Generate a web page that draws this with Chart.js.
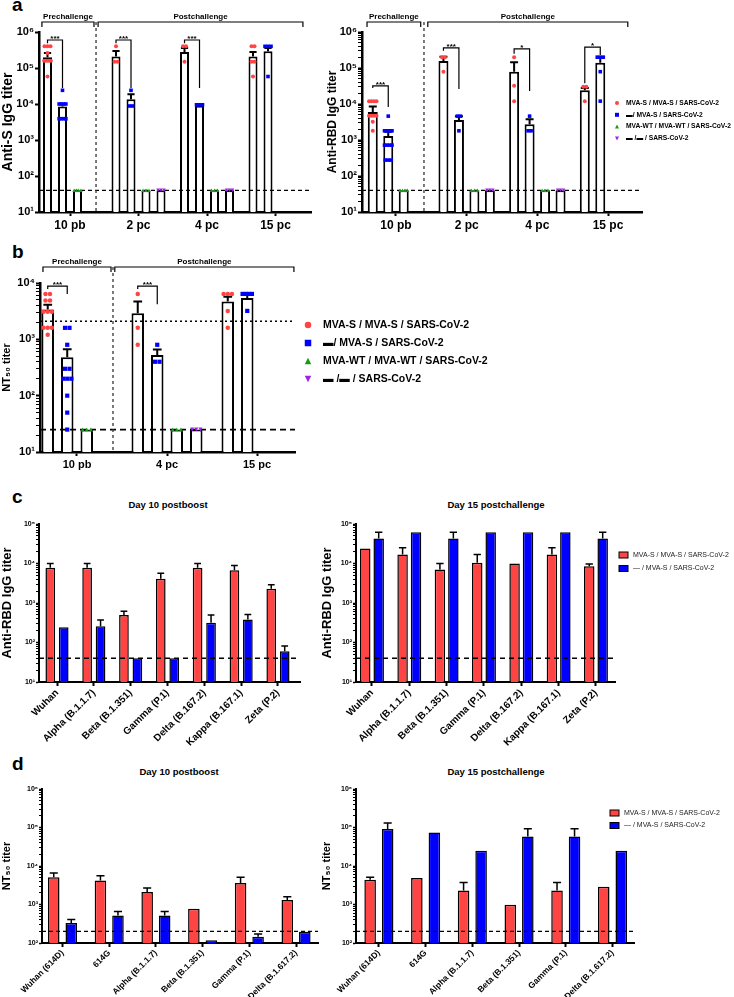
<!DOCTYPE html>
<html>
<head>
<meta charset="utf-8">
<script src="https://cdn.jsdelivr.net/npm/chart.js@4.4.0/dist/chart.umd.min.js"></script>
<style>
  body { margin: 0; background: #fff; font-family: "Liberation Sans", Arial, sans-serif; }
  #fig { position: relative; width: 734px; height: 997px; overflow: hidden; }
  canvas { position: absolute; }
  .lbl { position: absolute; font-weight: bold; color: #000; white-space: nowrap; }
  .ttl { position: absolute; font-weight: bold; font-size: 9.5px; color: #000; white-space: nowrap; transform: translateX(-50%); }
</style>
</head>
<body>
<div id="fig">
  <div class="lbl" style="left:12px;top:-6px;font-size:19px">a</div>
  <div class="lbl" style="left:12px;top:241px;font-size:19px">b</div>
  <div class="lbl" style="left:12px;top:486px;font-size:19px">c</div>
  <div class="lbl" style="left:12px;top:753px;font-size:19px">d</div>
  <div class="ttl" style="left:168px;top:499px">Day 10 postboost</div>
  <div class="ttl" style="left:496px;top:499px">Day 15 postchallenge</div>
  <div class="ttl" style="left:179px;top:766px">Day 10 postboost</div>
  <div class="ttl" style="left:496px;top:766px">Day 15 postchallenge</div>
  <canvas id="aS"></canvas>
  <canvas id="aRBD"></canvas>
  <canvas id="bNT"></canvas>
  <canvas id="c10"></canvas>
  <canvas id="c15"></canvas>
  <canvas id="d10"></canvas>
  <canvas id="d15"></canvas>
</div>
<script>
// ---------- panel a : anti-S / anti-RBD IgG ----------
var timepointsA = ["10 pb", "2 pc", "4 pc", "15 pc"];

var antiSRed = [2.0e5, 2.1e5, 2.8e5, 2.1e5];
var antiSRedErr = [2.6e5, 2.95e5, 3.6e5, 2.8e5];
var antiSBlue = [8.5e3, 1.35e4, 9.0e3, 2.9e5];
var antiSBlueErr = [1.0e4, 1.86e4, null, 3.6e5];
var antiSGreen = [40, 40, 40, null];
var antiSPurple = [null, 40, 40, null];
var antiSRedDots = [[4e5, 4e5, 4e5, 2.6e5, 1.6e5, 1.6e5, 1.6e5, 1.6e5, 5.8e4], [4e5, 1.5e5, 1.5e5], [4e5, 4e5, 1.5e5], [4e5, 4e5, 1.5e5, 1.5e5, 5.8e4]];
var antiSBlueDots = [[2.4e4, 1e4, 1e4, 1e4, 1e4, 3.9e3, 3.9e3, 3.9e3, 3.9e3], [2.4e4, 8.8e3, 8.8e3], [9.5e3, 9.5e3, 9.5e3], [4e5, 4e5, 4e5, 5.8e4]];
var antiSGreenDots = [[40, 40, 40, 40], [40, 40, 40], [40, 40, 40], []];
var antiSPurpleDots = [[], [40, 40, 40], [40, 40, 40], []];

var rbdRed = [6.0e3, 1.56e5, 7.9e4, 2.4e4];
var rbdRedErr = [8.5e3, 2.06e5, 1.44e5, 2.8e4];
var rbdBlue = [1.3e3, 3.6e3, 2.75e3, 1.4e5];
var rbdBlueErr = [1.7e3, 4.6e3, 3.76e3, 1.9e5];
var rbdGreen = [40, 40, 40, null];
var rbdPurple = [null, 40, 40, null];
var rbdRedDots = [[1.2e4, 1.2e4, 1.2e4, 1.2e4, 4.7e3, 4.7e3, 4.7e3, 4.7e3, 3.2e3, 1.8e3], [2e5, 2e5, 7.9e4], [2e5, 3.2e4, 1.2e4], [3.0e4, 3.0e4, 1.2e4]];
var rbdBlueDots = [[4.6e3, 1.8e3, 1.8e3, 1.8e3, 1.8e3, 720, 720, 720, 720, 277, 277, 277], [4.6e3, 4.6e3, 1.8e3], [4.6e3, 1.8e3, 1.8e3], [2e5, 2e5, 2e5, 7.9e4, 1.2e4]];
var rbdGreenDots = [[40, 40, 40, 40], [40, 40, 40], [40, 40, 40], []];
var rbdPurpleDots = [[], [40, 40, 40], [40, 40, 40], []];

// ---------- panel b : NT50 ----------
var timepointsB = ["10 pb", "4 pc", "15 pc"];
var ntRed = [3.4e3, 2.9e3, 4.7e3];
var ntRedErr = [4.1e3, 4.7e3, 5.7e3];
var ntBlue = [480, 525, 5.4e3];
var ntBlueErr = [670, 660, 6.4e3];
var ntGreen = [25, 25, null];
var ntPurple = [null, 25, null];
var ntRedDots = [[6.4e3, 6.4e3, 4.9e3, 4.9e3, 3.1e3, 3.1e3, 3.1e3, 1.6e3, 1.6e3, 1.6e3, 1.2e3], [6.4e3, 1.6e3, 800], [6.4e3, 6.4e3, 6.4e3, 3.2e3, 1.6e3]];
var ntBlueDots = [[1.6e3, 1.6e3, 800, 300, 300, 200, 200, 200, 100, 50, 25], [800, 400, 400], [6.4e3, 6.4e3, 6.4e3, 6.4e3, 3.2e3]];
var ntGreenDots = [[25, 25, 25], [25, 25, 25], []];
var ntPurpleDots = [[], [25, 25, 25], []];

// ---------- panel c : anti-RBD per variant ----------
var variantsC = ["Wuhan", "Alpha (B.1.1.7)", "Beta (B.1.351)", "Gamma (P.1)", "Delta (B.167.2)", "Kappa (B.167.1)", "Zeta (P.2)"];
var c10Red = [7.8e3, 7.8e3, 500, 4.1e3, 7.8e3, 6.7e3, 2.3e3];
var c10RedErr = [1.0e4, 1.0e4, 615, 5.7e3, 1.0e4, 8.9e3, 2.9e3];
var c10Blue = [245, 257, 40, 40, 316, 380, 60];
var c10BlueErr = [null, 370, null, null, 500, 515, 81];
var c15Red = [2.4e4, 1.7e4, 7.0e3, 1.05e4, 1.0e4, 1.7e4, 8.5e3];
var c15RedErr = [null, 2.5e4, 1.0e4, 1.7e4, null, 2.5e4, 9.7e3];
var c15Blue = [4.3e4, 6.2e4, 4.3e4, 6.2e4, 6.2e4, 6.2e4, 4.3e4];
var c15BlueErr = [6.2e4, null, 6.2e4, null, null, null, 6.2e4];

// ---------- panel d : NT50 per variant ----------
var variantsD = ["Wuhan (614D)", "614G", "Alpha (B.1.1.7)", "Beta (B.1.351)", "Gamma (P.1)", "Delta (B.1.617.2)"];
var d10Red = [5.1e3, 4.2e3, 2.1e3, 780, 3.6e3, 1.3e3];
var d10RedErr = [6.6e3, 5.6e3, 2.7e3, null, 5.1e3, 1.6e3];
var d10Blue = [330, 520, 520, 117, 145, 195];
var d10BlueErr = [405, 660, 660, null, 172, null];
var d15Red = [4.4e3, 4.9e3, 2.3e3, 990, 2.3e3, 2.9e3];
var d15RedErr = [5.1e3, null, 3.7e3, null, 3.7e3, null];
var d15Blue = [9.1e4, 7.4e4, 2.5e4, 5.8e4, 5.8e4, 2.5e4];
var d15BlueErr = [1.3e5, null, null, 9.3e4, 9.3e4, null];

var groupNames = ["MVA-S / MVA-S / SARS-CoV-2", "\u25AC/ MVA-S / SARS-CoV-2", "MVA-WT / MVA-WT / SARS-CoV-2", "\u25AC /\u25AC / SARS-CoV-2"];
var groupNames2 = ["MVA-S / MVA-S / SARS-CoV-2", "\u2014 / MVA-S / SARS-CoV-2"];

var RED = "#ff4444", BLUE = "#0000ff", GREEN = "#1a9a1a", PURPLE = "#a020f0";
var FONT = "'Liberation Sans', Arial, sans-serif";
Chart.defaults.font.family = FONT;
Chart.defaults.color = "#000";

var SUP = { "0": "\u2070", "1": "\u00B9", "2": "\u00B2", "3": "\u00B3", "4": "\u2074", "5": "\u2075", "6": "\u2076" };
function powLabel(v) {
  var e = Math.round(Math.log10(v));
  if (Math.abs(Math.log10(v) - e) > 1e-6) return "";
  return "10" + String(e).split("").map(function (c) { return SUP[c]; }).join("");
}
function logTicks(lo, hi, minors) {
  var t = [];
  for (var e = lo; e <= hi; e++) {
    t.push({ value: Math.pow(10, e) });
    if (minors && e < hi) for (var m = 2; m <= 9; m++) t.push({ value: m * Math.pow(10, e) });
  }
  return t;
}
function pts(values) {
  return values.map(function (v, i) { return { x: i, y: v }; });
}

function drawMarker(ctx, style, x, y, s, color) {
  ctx.fillStyle = color;
  ctx.beginPath();
  if (style === "circle") ctx.arc(x, y, s / 2, 0, Math.PI * 2);
  else if (style === "rect") ctx.rect(x - s / 2, y - s / 2, s, s);
  else if (style === "triangle") { ctx.moveTo(x, y - s / 2); ctx.lineTo(x + s / 2, y + s / 2); ctx.lineTo(x - s / 2, y + s / 2); ctx.closePath(); }
  else if (style === "triangleDown") { ctx.moveTo(x, y + s / 2); ctx.lineTo(x + s / 2, y - s / 2); ctx.lineTo(x - s / 2, y - s / 2); ctx.closePath(); }
  ctx.fill();
}

// everything GraphPad draws on top of the bars
function extras(cfg) {
  return {
    id: "extras",
    afterDatasetsDraw: function (chart) {
      var ctx = chart.ctx, xs = chart.scales.x, ys = chart.scales.y, area = chart.chartArea;
      var offX = chart.canvas.offsetLeft, offY = chart.canvas.offsetTop;
      ctx.save();
      ctx.strokeStyle = "#000";
      ctx.lineCap = "butt";

      // error bars (upper only)
      chart.data.datasets.forEach(function (ds, i) {
        if (!ds.errTop) return;
        var meta = chart.getDatasetMeta(i);
        ds.errTop.forEach(function (e, j) {
          var bar = meta.data[j];
          if (e == null || !bar || ds.data[j].y == null) return;
          var ye = ys.getPixelForValue(e), cap = bar.width * cfg.capRatio;
          ctx.beginPath();
          ctx.setLineDash([]);
          ctx.lineWidth = cfg.errW;
          ctx.moveTo(bar.x, bar.y);
          ctx.lineTo(bar.x, ye);
          ctx.moveTo(bar.x - cap / 2, ye);
          ctx.lineTo(bar.x + cap / 2, ye);
          ctx.stroke();
        });
      });

      // horizontal reference lines
      (cfg.hlines || []).forEach(function (h) {
        var y = ys.getPixelForValue(h.value);
        ctx.beginPath();
        ctx.setLineDash(h.dash);
        ctx.lineWidth = h.width;
        ctx.strokeStyle = "#000";
        ctx.moveTo(area.left, y);
        ctx.lineTo(area.right, y);
        ctx.stroke();
      });
      ctx.setLineDash([]);

      // individual animals
      chart.data.datasets.forEach(function (ds, i) {
        if (!ds.dots) return;
        var meta = chart.getDatasetMeta(i);
        ds.dots.forEach(function (vals, j) {
          var bar = meta.data[j];
          if (!bar || !vals.length) return;
          var rows = {};
          vals.forEach(function (v) { (rows[v] = rows[v] || []).push(v); });
          Object.keys(rows).forEach(function (k) {
            var n = rows[k].length, y = ys.getPixelForValue(+k);
            var gap = n > 1 ? Math.min(cfg.dotGap, bar.width / n) : 0;
            for (var m = 0; m < n; m++) {
              drawMarker(ctx, ds.dotStyle, bar.x + (m - (n - 1) / 2) * gap, y, ds.dotSize, ds.dotColor);
            }
          });
        });
      });

      // significance brackets
      (cfg.sig || []).forEach(function (s) {
        var x0 = chart.getDatasetMeta(s.a).data[s.g].x, x1 = chart.getDatasetMeta(s.b).data[s.g].x;
        var y = ys.getPixelForValue(s.y);
        ctx.beginPath();
        ctx.lineWidth = 1.2;
        ctx.moveTo(x0, ys.getPixelForValue(s.y0));
        ctx.lineTo(x0, y);
        ctx.lineTo(x1, y);
        ctx.lineTo(x1, ys.getPixelForValue(s.y1));
        ctx.stroke();
        ctx.fillStyle = "#000";
        ctx.font = cfg.sigFont;
        ctx.textAlign = "center";
        ctx.textBaseline = "alphabetic";
        ctx.fillText(s.text, (x0 + x1) / 2, y + 1);
      });

      // prechallenge / postchallenge brackets and divider
      (cfg.phases || []).forEach(function (p) {
        var xa = xs.getPixelForValue(p.from), xb = xs.getPixelForValue(p.to), y = area.top - cfg.phaseDy;
        ctx.beginPath();
        ctx.lineWidth = 1.2;
        ctx.moveTo(xa, y + 5);
        ctx.lineTo(xa, y);
        ctx.lineTo(xb, y);
        ctx.lineTo(xb, y + 5);
        ctx.stroke();
        ctx.fillStyle = "#000";
        ctx.font = cfg.phaseFont;
        ctx.textAlign = "center";
        ctx.textBaseline = "bottom";
        ctx.fillText(p.text, (xa + xb) / 2, y - 1);
      });
      if (cfg.divider != null) {
        var xd = xs.getPixelForValue(cfg.divider);
        ctx.beginPath();
        ctx.setLineDash([3, 3]);
        ctx.lineWidth = 1.3;
        ctx.strokeStyle = "#333";
        ctx.moveTo(xd, area.top - cfg.phaseDy);
        ctx.lineTo(xd, area.bottom);
        ctx.stroke();
        ctx.setLineDash([]);
        ctx.strokeStyle = "#000";
      }

      // side legend
      if (cfg.legend) {
        var L = cfg.legend;
        L.items.forEach(function (it, k) {
          var x = L.x - offX, y = L.y - offY + k * L.dy;
          if (it.style === "box") {
            ctx.fillStyle = it.color;
            ctx.fillRect(x - 4.5, y - 3, 9, 6);
            ctx.lineWidth = 1;
            ctx.strokeRect(x - 4.5, y - 3, 9, 6);
          } else {
            drawMarker(ctx, it.style, x, y, L.size, it.color);
          }
          ctx.fillStyle = L.textColor;
          ctx.font = L.font;
          ctx.textAlign = "left";
          ctx.textBaseline = "middle";
          ctx.fillText(it.text, x + L.tx, y);
        });
      }
      ctx.restore();
    }
  };
}

function barSet(values, err, fill, bw, dots, dotStyle, dotColor, dotSize) {
  return {
    data: pts(values),
    errTop: err,
    backgroundColor: fill,
    borderColor: "#000",
    borderWidth: bw,
    borderSkipped: "start",
    dots: dots,
    dotStyle: dotStyle,
    dotColor: dotColor,
    dotSize: dotSize
  };
}

function makeChart(id, geo, cats, xRange, yExp, minors, look, datasets, extra) {
  var cv = document.getElementById(id);
  cv.width = geo.yW + (geo.R - geo.L) + geo.padR;
  cv.height = geo.padT + (geo.B - geo.T) + geo.xH;
  cv.style.width = cv.width + "px";
  cv.style.height = cv.height + "px";
  cv.style.left = (geo.L - geo.yW) + "px";
  cv.style.top = (geo.T - geo.padT) + "px";
  datasets.forEach(function (d) {
    d.categoryPercentage = look.catPct;
    d.barPercentage = look.barPct;
  });
  return new Chart(cv, {
    type: "bar",
    data: { datasets: datasets },
    options: {
      responsive: false,
      animation: false,
      layout: { padding: { top: geo.padT, right: geo.padR, left: 0, bottom: 0 } },
      plugins: { legend: { display: false }, tooltip: { enabled: false } },
      scales: {
        x: {
          type: "linear",
          min: xRange[0],
          max: xRange[1],
          offset: false,
          grid: { display: true, drawOnChartArea: false, offset: false, tickLength: 4, tickWidth: 2, tickColor: "#000" },
          border: { color: "#000", width: look.axisW },
          afterBuildTicks: function (s) { s.ticks = cats.map(function (c, i) { return { value: i }; }); },
          afterFit: function (s) { s.height = geo.xH; },
          ticks: {
            autoSkip: false,
            padding: look.xPad,
            maxRotation: look.rot,
            minRotation: look.rot,
            font: look.xFont,
            color: "#000",
            callback: function (v) { return cats[v]; }
          }
        },
        y: {
          type: "logarithmic",
          min: Math.pow(10, yExp[0]),
          max: Math.pow(10, yExp[1]),
          beginAtZero: false,
          grid: {
            display: true, drawOnChartArea: false, tickLength: look.tickLen, tickColor: "#000",
            tickWidth: function (c) { return powLabel(c.tick.value) ? look.axisW * 0.8 : 1; }
          },
          border: { color: "#000", width: look.axisW },
          afterBuildTicks: function (s) { s.ticks = logTicks(yExp[0], yExp[1], minors); },
          afterFit: function (s) { s.width = geo.yW; },
          ticks: { autoSkip: false, padding: 1, font: look.yFont, color: "#000", callback: function (v) { return powLabel(v); } },
          title: { display: true, text: look.yTitle, font: look.titleFont, color: "#000", padding: 0 }
        }
      }
    },
    plugins: [extras(extra)]
  });
}

// ----- a (left): anti-S -----
var lookA = { catPct: 0.876, barPct: 0.6, axisW: 2.5, tickLen: 4, rot: 0, xPad: 2,
  xFont: { size: 12, weight: "bold" }, yFont: { size: 11, weight: "bold" },
  yTitle: "Anti-S IgG titer", titleFont: { size: 14, weight: "bold" } };
makeChart("aS", { L: 39, T: 32, R: 311, B: 212, yW: 39, padT: 32, xH: 28, padR: 15 },
  timepointsA, [-0.4526, 3.518], [1, 6], false, lookA,
  [
    barSet(antiSRed, antiSRedErr, "#fff", 2, antiSRedDots, "circle", RED, 4),
    barSet(antiSBlue, antiSBlueErr, "#fff", 2, antiSBlueDots, "rect", BLUE, 3.6),
    barSet(antiSGreen, null, "#fff", 2, antiSGreenDots, "triangle", GREEN, 3.5),
    barSet(antiSPurple, null, "#fff", 2, antiSPurpleDots, "triangleDown", PURPLE, 3.5)
  ],
  {
    capRatio: 0.8, errW: 2, dotGap: 3, sigFont: "bold 8px " + FONT,
    hlines: [{ value: 40, dash: [4, 3], width: 1.3 }],
    sig: [
      { g: 0, a: 0, b: 1, y: 6e5, y0: 4.9e5, y1: 2.8e4, text: "***" },
      { g: 1, a: 0, b: 1, y: 6e5, y0: 4.9e5, y1: 2.8e4, text: "***" },
      { g: 2, a: 0, b: 1, y: 6e5, y0: 4.9e5, y1: 2.8e4, text: "***" }
    ],
    phaseDy: 10, phaseFont: "bold 8px " + FONT,
    phases: [{ from: -0.41, to: 0.35, text: "Prechallenge" }, { from: 0.41, to: 3.40, text: "Postchallenge" }],
    divider: 0.38
  });

// ----- a (right): anti-RBD -----
var lookA2 = Object.assign({}, lookA, { barPct: 0.645, yTitle: "Anti-RBD IgG titer", titleFont: { size: 12, weight: "bold" } });
makeChart("aRBD", { L: 362, T: 32, R: 642, B: 212, yW: 37, padT: 32, xH: 28, padR: 92 },
  timepointsA, [-0.481, 3.481], [1, 6], true, lookA2,
  [
    barSet(rbdRed, rbdRedErr, "#fff", 2, rbdRedDots, "circle", RED, 4),
    barSet(rbdBlue, rbdBlueErr, "#fff", 2, rbdBlueDots, "rect", BLUE, 3.6),
    barSet(rbdGreen, null, "#fff", 2, rbdGreenDots, "triangle", GREEN, 3.5),
    barSet(rbdPurple, null, "#fff", 2, rbdPurpleDots, "triangleDown", PURPLE, 3.5)
  ],
  {
    capRatio: 0.8, errW: 2, dotGap: 3, sigFont: "bold 8px " + FONT,
    hlines: [{ value: 40, dash: [4, 3], width: 1.3 }],
    sig: [
      { g: 0, a: 0, b: 1, y: 3.2e4, y0: 2.8e4, y1: 8.3e3, text: "***" },
      { g: 1, a: 0, b: 1, y: 3.6e5, y0: 3.0e5, y1: 2.6e4, text: "***" },
      { g: 2, a: 0, b: 1, y: 3.4e5, y0: 2.5e5, y1: 2.3e4, text: "*" },
      { g: 3, a: 0, b: 1, y: 3.8e5, y0: 3.8e4, y1: 2.3e5, text: "*" }
    ],
    phaseDy: 10, phaseFont: "bold 8px " + FONT,
    phases: [{ from: -0.41, to: 0.35, text: "Prechallenge" }, { from: 0.45, to: 3.28, text: "Postchallenge" }],
    divider: 0.396,
    legend: {
      x: 617, y: 103, dy: 11.8, tx: 9, size: 4, font: "bold 6.7px " + FONT, textColor: "#000",
      items: [
        { style: "circle", color: RED, text: groupNames[0] },
        { style: "rect", color: BLUE, text: groupNames[1] },
        { style: "triangle", color: GREEN, text: groupNames[2] },
        { style: "triangleDown", color: PURPLE, text: groupNames[3] }
      ]
    }
  });

// ----- b: NT50 -----
var lookB = { catPct: 0.867, barPct: 0.64, axisW: 2.5, tickLen: 4, rot: 0, xPad: 2,
  xFont: { size: 11, weight: "bold" }, yFont: { size: 11, weight: "bold" },
  yTitle: "NT\u2085\u2080 titer", titleFont: { size: 11, weight: "bold" } };
makeChart("bNT", { L: 40, T: 283, R: 295, B: 452, yW: 40, padT: 33, xH: 26, padR: 225 },
  timepointsB, [-0.411, 2.422], [1, 4], true, lookB,
  [
    barSet(ntRed, ntRedErr, "#fff", 2, ntRedDots, "circle", RED, 4.5),
    barSet(ntBlue, ntBlueErr, "#fff", 2, ntBlueDots, "rect", BLUE, 4.2),
    barSet(ntGreen, null, "#fff", 2, ntGreenDots, "triangle", GREEN, 4),
    barSet(ntPurple, null, "#fff", 2, ntPurpleDots, "triangleDown", PURPLE, 4)
  ],
  {
    capRatio: 0.7, errW: 2, dotGap: 4.5, sigFont: "bold 8px " + FONT,
    hlines: [{ value: 25, dash: [6, 4], width: 1.6 }, { value: 2100, dash: [2, 3], width: 1.5 }],
    sig: [
      { g: 0, a: 0, b: 1, y: 8.8e3, y0: 7.8e3, y1: 6.4e3, text: "***" },
      { g: 1, a: 0, b: 1, y: 8.8e3, y0: 7.8e3, y1: 4.2e3, text: "***" }
    ],
    phaseDy: 16, phaseFont: "bold 8px " + FONT,
    phases: [{ from: -0.378, to: 0.378, text: "Prechallenge" }, { from: 0.42, to: 2.41, text: "Postchallenge" }],
    divider: 0.4,
    legend: {
      x: 308, y: 325, dy: 18, tx: 15, size: 6.5, font: "bold 10.5px " + FONT, textColor: "#000",
      items: [
        { style: "circle", color: RED, text: groupNames[0] },
        { style: "rect", color: BLUE, text: groupNames[1] },
        { style: "triangle", color: GREEN, text: groupNames[2] },
        { style: "triangleDown", color: PURPLE, text: groupNames[3] }
      ]
    }
  });

// ----- c: anti-RBD against variants -----
var lookC = { catPct: 0.73, barPct: 0.72, axisW: 2, tickLen: 3, rot: 45, xPad: 1,
  xFont: { size: 10, weight: "bold" }, yFont: { size: 7, weight: "bold" },
  yTitle: "Anti-RBD IgG titer", titleFont: { size: 13, weight: "bold" } };
var legendC = {
  x: 623.5, y: 555, dy: 13.5, tx: 9.5, size: 6, font: "7px " + FONT, textColor: "#222",
  items: [{ style: "box", color: RED, text: groupNames2[0] }, { style: "box", color: BLUE, text: groupNames2[1] }]
};
makeChart("c10", { L: 39, T: 524, R: 300, B: 682, yW: 39, padT: 10, xH: 70, padR: 20 },
  variantsC, [-0.489, 6.598], [1, 5], true, lookC,
  [barSet(c10Red, c10RedErr, RED, 1.5), barSet(c10Blue, c10BlueErr, BLUE, 1.5)],
  { capRatio: 0.7, errW: 1.5, dotGap: 0, hlines: [{ value: 40, dash: [5, 4], width: 1.6 }] });
makeChart("c15", { L: 356, T: 524, R: 615, B: 682, yW: 36, padT: 10, xH: 70, padR: 119 },
  variantsC, [-0.428, 6.51], [1, 5], true, Object.assign({}, lookC, { catPct: 0.72, barPct: 0.78 }),
  [barSet(c15Red, c15RedErr, RED, 1.5), barSet(c15Blue, c15BlueErr, BLUE, 1.5)],
  { capRatio: 0.7, errW: 1.5, dotGap: 0, hlines: [{ value: 40, dash: [5, 4], width: 1.6 }], legend: legendC });

// ----- d: NT50 against variants -----
var lookD = { catPct: 0.75, barPct: 0.66, axisW: 2, tickLen: 3, rot: 45, xPad: 1,
  xFont: { size: 8.5, weight: "bold" }, yFont: { size: 7, weight: "bold" },
  yTitle: "NT\u2085\u2080 titer", titleFont: { size: 11, weight: "bold" } };
var legendD = Object.assign({}, legendC, { x: 614.5, y: 813, dy: 12.5 });
makeChart("d10", { L: 42, T: 789, R: 318, B: 943, yW: 42, padT: 9, xH: 54, padR: 2 },
  variantsD, [-0.439, 5.47], [2, 6], true, lookD,
  [barSet(d10Red, d10RedErr, RED, 1.5), barSet(d10Blue, d10BlueErr, BLUE, 1.5)],
  { capRatio: 0.7, errW: 1.5, dotGap: 0, hlines: [{ value: 200, dash: [4, 3], width: 1.3 }] });
makeChart("d15", { L: 356, T: 789, R: 634, B: 943, yW: 36, padT: 9, xH: 54, padR: 100 },
  variantsD, [-0.49, 5.46], [2, 6], true, lookD,
  [barSet(d15Red, d15RedErr, RED, 1.5), barSet(d15Blue, d15BlueErr, BLUE, 1.5)],
  { capRatio: 0.7, errW: 1.5, dotGap: 0, hlines: [{ value: 200, dash: [4, 3], width: 1.3 }], legend: legendD });
</script>
</body>
</html>
